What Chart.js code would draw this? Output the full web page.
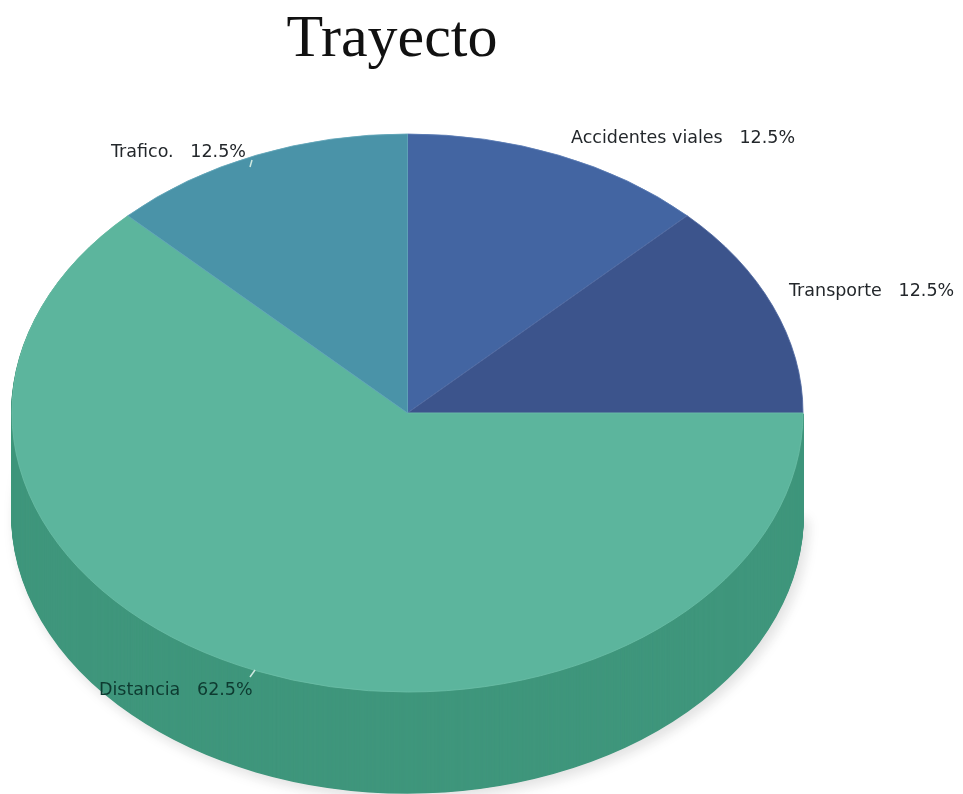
<!DOCTYPE html>
<html>
<head>
<meta charset="utf-8">
<style>
html,body{margin:0;padding:0;background:#fff;}
#wrap{position:relative;width:963px;height:794px;overflow:hidden;}
</style>
<script src="https://cdn.jsdelivr.net/npm/chart.js@4"></script>
</head>
<body>
<div id="wrap"><canvas id="c" width="963" height="794"></canvas></div>
<script>
const chartTitle = "Trayecto";
const categories = ["Accidentes viales", "Transporte", "Distancia", "Trafico."];
const values = [12.5, 12.5, 62.5, 12.5];
const topColors = ["#4365a2", "#3c548c", "#5cb59d", "#4a93a8"];
const seamColors = ["#5a7bb4", "#5069a0", "#6abdA6", "#62a6b8"];
const sideColor = "#3f967c";
const pieRadius = 395.5, pieCenterY = 413, tilt = 279 / 395.5, depth = 101;
const labelSpots = [[571, 138], [789, 291], [99, 690], [111, 152]];
const leaders = [null, null, [250, 677, 255, 670], [250, 167, 252, 160]];

function tiltCtx(ctx, arc, dy) {
  ctx.translate(0, pieCenterY + dy);
  ctx.scale(1, tilt);
  ctx.translate(0, -arc.y);
}

const tiltPlugin = {
  id: "tilt",
  afterLayout(chart) {
    chart.titleBlock.right = 784;
  },
  beforeDatasetsDraw(chart) {
    const ctx = chart.ctx;
    const arcs = chart.getDatasetMeta(0).data;
    const front = arcs[categories.indexOf("Distancia")];
    const saved = front.options;
    front.options = Object.assign(Object.create(saved), {
      backgroundColor: sideColor, borderColor: sideColor, borderWidth: 2
    });
    for (let d = depth; d >= 1; d--) {
      ctx.save();
      if (d === depth) {
        ctx.shadowColor = "rgba(0,0,0,0.13)";
        ctx.shadowBlur = 14;
        ctx.shadowOffsetX = 4;
        ctx.shadowOffsetY = 5;
      }
      tiltCtx(ctx, front, d);
      front.draw(ctx);
      ctx.restore();
    }
    front.options = saved;
    ctx.save();
    tiltCtx(ctx, front, 0);
  },
  afterDatasetsDraw(chart) {
    chart.ctx.restore();
  },
  afterDraw(chart) {
    const ctx = chart.ctx;
    ctx.save();
    ctx.strokeStyle = "#cfe8e0";
    ctx.lineWidth = 1.5;
    leaders.forEach(l => {
      if (!l) return;
      ctx.beginPath();
      ctx.moveTo(l[0], l[1]);
      ctx.lineTo(l[2], l[3]);
      ctx.stroke();
    });
    ctx.font = "17.5px 'DejaVu Sans'";
    ctx.textBaseline = "middle";
    ctx.textAlign = "left";
    categories.forEach((name, i) => {
      ctx.fillStyle = i === 2 ? "#0d3a30" : "#23272b";
      ctx.fillText(name + "   " + values[i] + "%", labelSpots[i][0], labelSpots[i][1]);
    });
    ctx.restore();
  }
};

new Chart(document.getElementById("c"), {
  type: "pie",
  data: {
    labels: categories,
    datasets: [{
      data: values,
      backgroundColor: topColors,
      borderColor: seamColors,
      borderWidth: 1,
      radius: pieRadius
    }]
  },
  options: {
    responsive: false,
    animation: false,
    layout: { padding: { right: 148 } },
    plugins: {
      legend: { display: false },
      tooltip: { enabled: false },
      title: {
        display: true,
        text: chartTitle,
        color: "#111",
        font: { family: "'Liberation Serif'", size: 60, weight: "normal" },
        padding: { top: 4, bottom: 4 }
      }
    }
  },
  plugins: [tiltPlugin]
});
</script>
</body>
</html>
